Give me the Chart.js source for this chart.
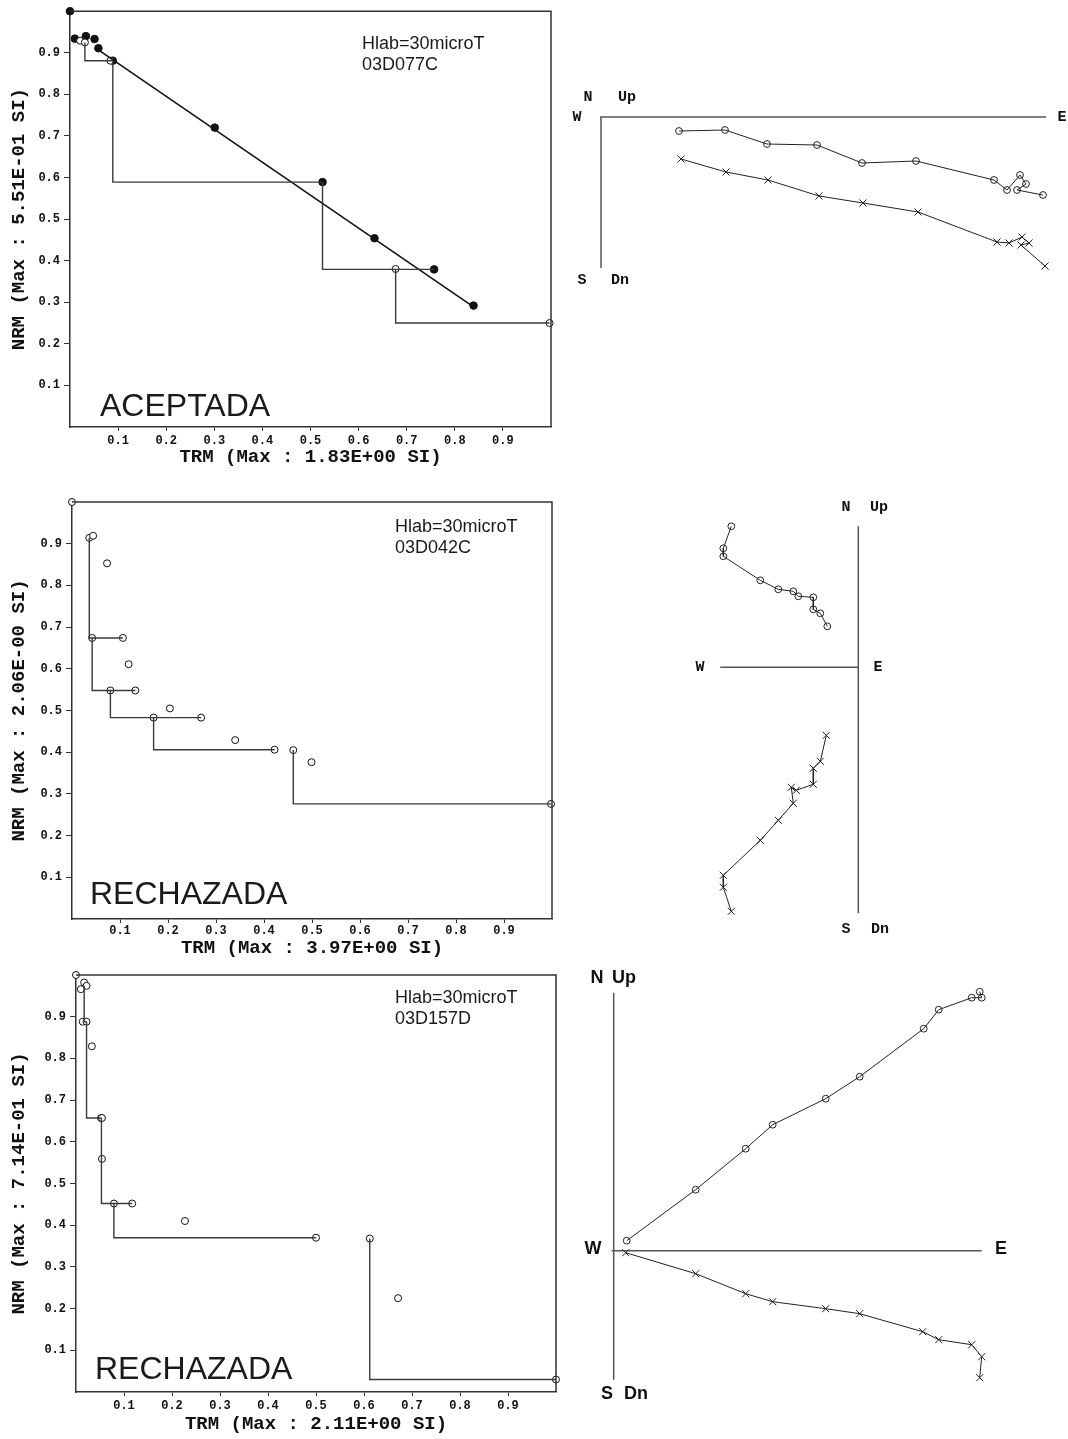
<!DOCTYPE html>
<html><head><meta charset="utf-8">
<script src="https://cdn.jsdelivr.net/npm/chart.js@4.4.0/dist/chart.umd.min.js"></script>
<style>
html,body{margin:0;padding:0;background:#fff;}
body{width:1068px;height:1439px;position:relative;overflow:hidden;}
canvas{position:absolute;display:block;}
</style></head><body>
<canvas id="a1" width="570" height="470" style="left:0;top:0"></canvas>
<canvas id="a2" width="570" height="481" style="left:0;top:480px"></canvas>
<canvas id="a3" width="570" height="477" style="left:0;top:960px"></canvas>
<canvas id="z1" width="498" height="215" style="left:570px;top:80px"></canvas>
<canvas id="z2" width="240" height="450" style="left:680px;top:490px"></canvas>
<canvas id="z3" width="488" height="440" style="left:580px;top:965px"></canvas>
<script>
// ---------- tick labels ----------
const araiTickValues = [0.1,0.2,0.3,0.4,0.5,0.6,0.7,0.8,0.9];
const araiTickLabels = ['0.1','0.2','0.3','0.4','0.5','0.6','0.7','0.8','0.9'];

// ---------- Arai plot 1 (03D077C) ----------
const arai1FilledX = [0.000,0.010,0.033,0.051,0.059,0.089,0.301,0.525,0.633,0.757,0.839];
const arai1FilledY = [1.000,0.934,0.940,0.933,0.911,0.881,0.720,0.589,0.454,0.379,0.292];
const arai1OpenX = [0.021,0.031,0.084,0.677,0.997];
const arai1OpenY = [0.929,0.925,0.881,0.380,0.250];
const arai1StepX = [[0.031,0.031,0.089],[0.089,0.089,0.525],[0.525,0.525,0.757],[0.677,0.677,0.997]];
const arai1StepY = [[0.925,0.881,0.881],[0.881,0.589,0.589],[0.589,0.379,0.379],[0.380,0.250,0.250]];
const arai1FitX = [0.059,0.839];
const arai1FitY = [0.907,0.289];

// ---------- Arai plot 2 (03D042C) ----------
const arai2OpenX = [0.000,0.036,0.044,0.073,0.042,0.106,0.118,0.080,0.132,0.204,0.170,0.269,0.340,0.422,0.461,0.499,0.998];
const arai2OpenY = [1.000,0.914,0.919,0.853,0.674,0.674,0.611,0.548,0.548,0.505,0.483,0.483,0.429,0.406,0.405,0.376,0.276];
const arai2StepX = [[0.036,0.036,0.106],[0.042,0.042,0.132],[0.080,0.080,0.269],[0.170,0.170,0.422],[0.461,0.461,0.998]];
const arai2StepY = [[0.914,0.674,0.674],[0.674,0.548,0.548],[0.548,0.483,0.483],[0.483,0.406,0.406],[0.405,0.276,0.276]];

// ---------- Arai plot 3 (03D157D) ----------
const arai3OpenX = [0.000,0.017,0.022,0.010,0.014,0.022,0.033,0.052,0.054,0.054,0.079,0.117,0.227,0.500,0.612,0.671,1.000];
const arai3OpenY = [1.000,0.982,0.974,0.966,0.888,0.888,0.829,0.657,0.657,0.559,0.452,0.452,0.410,0.370,0.368,0.225,0.030];
const arai3StepX = [[0.017,0.017,0.022],[0.022,0.022,0.053],[0.053,0.053,0.117],[0.079,0.079,0.500],[0.612,0.612,1.000]];
const arai3StepY = [[0.974,0.888,0.888],[0.888,0.657,0.657],[0.657,0.452,0.452],[0.452,0.370,0.370],[0.368,0.030,0.030]];

// ---------- Zijderveld diagrams (E, N/Up in normalized units) ----------
const zij1HorX = [0.78,1.24,1.66,2.16,2.61,3.15,3.93,4.06,4.19,4.25,4.16,4.42];
const zij1HorY = [-0.14,-0.13,-0.27,-0.28,-0.46,-0.44,-0.63,-0.73,-0.58,-0.67,-0.73,-0.78];
const zij1VerX = [0.80,1.25,1.67,2.18,2.62,3.17,3.96,4.08,4.21,4.28,4.20,4.44];
const zij1VerY = [-0.42,-0.55,-0.63,-0.79,-0.86,-0.95,-1.25,-1.26,-1.20,-1.26,-1.28,-1.49];

const zij2HorX = [-1.27,-1.35,-1.35,-0.98,-0.80,-0.65,-0.60,-0.45,-0.45,-0.38,-0.31];
const zij2HorY = [1.41,1.19,1.11,0.87,0.78,0.76,0.71,0.70,0.58,0.54,0.41];
const zij2VerX = [-0.32,-0.38,-0.45,-0.45,-0.62,-0.67,-0.65,-0.80,-0.98,-1.35,-1.35,-1.27];
const zij2VerY = [-0.68,-0.94,-1.01,-1.17,-1.23,-1.20,-1.36,-1.53,-1.73,-2.08,-2.20,-2.44];

const zij3HorX = [0.13,0.82,1.32,1.59,2.12,2.46,3.10,3.25,3.58,3.68,3.66];
const zij3HorY = [0.10,0.61,1.02,1.26,1.52,1.74,2.22,2.41,2.53,2.53,2.59];
const zij3VerX = [0.12,0.82,1.32,1.59,2.12,2.46,3.09,3.25,3.58,3.68,3.66];
const zij3VerY = [-0.02,-0.23,-0.43,-0.51,-0.58,-0.63,-0.81,-0.89,-0.94,-1.06,-1.27];

// ---------- helpers ----------
const pts = (xs, ys) => xs.map((x, i) => ({x, y: ys[i]}));
const MONO = "'Liberation Mono','Courier New',monospace";
const SANS = "'Liberation Sans',Arial,sans-serif";
Chart.defaults.font.family = MONO;
Chart.defaults.color = '#111';

const araiDecor = {
  id: 'araiDecor',
  afterDraw(chart, args, opts) {
    const {ctx, chartArea: a} = chart;
    ctx.save();
    ctx.strokeStyle = '#333';
    ctx.lineWidth = 1.5;
    ctx.beginPath();
    ctx.moveTo(a.left, a.top); ctx.lineTo(a.right, a.top); ctx.lineTo(a.right, a.bottom);
    ctx.stroke();
    ctx.fillStyle = '#1a1a1a';
    ctx.textBaseline = 'middle';
    ctx.textAlign = 'left';
    (opts.texts || []).forEach(t => {
      ctx.font = t.font;
      ctx.fillText(t.text, t.x, t.y);
    });
    ctx.restore();
  }
};

function arai(id, o) {
  const ds = [];
  o.stepX.forEach((sx, i) => ds.push({data: pts(sx, o.stepY[i]), showLine: true, borderColor: '#3a3a3a', borderWidth: 1.4, pointRadius: 0, clip: false}));
  if (o.fitX) ds.push({data: pts(o.fitX, o.fitY), showLine: true, borderColor: '#111', borderWidth: 1.6, pointRadius: 0, clip: false});
  ds.push({data: pts(o.openX, o.openY), pointRadius: 3.5, pointBackgroundColor: '#fff', pointBorderColor: '#111', pointBorderWidth: 1, clip: false});
  if (o.filledX) ds.push({data: pts(o.filledX, o.filledY), pointRadius: 3.8, pointBackgroundColor: '#111', pointBorderColor: '#111', pointBorderWidth: 1, clip: false});
  const tickFont = {family: MONO, weight: 'bold', size: 12};
  const titleFont = {family: MONO, weight: 'bold', size: 19};
  new Chart(document.getElementById(id), {
    type: 'scatter',
    data: {datasets: ds},
    options: {
      responsive: false, animation: false, devicePixelRatio: 1,
      layout: {autoPadding: false, padding: o.pad},
      plugins: {legend: {display: false}, tooltip: {enabled: false}, araiDecor: {texts: o.texts}},
      scales: {
        x: {
          type: 'linear', min: 0, max: 1,
          afterFit(s) { s.height = o.xh; },
          afterBuildTicks(s) { s.ticks = araiTickValues.map(v => ({value: v})); },
          ticks: {autoSkip: false, maxRotation: 0, padding: o.tp, font: tickFont, color: '#111', callback: (v, i) => araiTickLabels[i]},
          grid: {drawOnChartArea: false, drawTicks: true, tickLength: 4, color: '#333', lineWidth: 1},
          border: {display: true, color: '#333', width: 1.5},
          title: {display: true, text: o.xTitle, font: titleFont, color: '#111', padding: {top: 0, bottom: 1}}
        },
        y: {
          type: 'linear', min: 0, max: 1,
          afterFit(s) { s.width = o.yw; },
          afterBuildTicks(s) { s.ticks = araiTickValues.map(v => ({value: v})); },
          ticks: {autoSkip: false, padding: 4, font: tickFont, color: '#111', callback: (v, i) => araiTickLabels[i]},
          grid: {drawOnChartArea: false, drawTicks: true, tickLength: 6, color: '#333', lineWidth: 1},
          border: {display: true, color: '#333', width: 1.5},
          title: {display: true, text: o.yTitle, font: titleFont, color: '#111', padding: {top: 8, bottom: 0}}
        }
      }
    },
    plugins: [araiDecor]
  });
}

const labF = '18px ' + SANS;
const bigF = '32px ' + SANS;

arai('a1', {
  filledX: arai1FilledX, filledY: arai1FilledY, openX: arai1OpenX, openY: arai1OpenY,
  stepX: arai1StepX, stepY: arai1StepY, fitX: arai1FitX, fitY: arai1FitY,
  pad: {top: 10, right: 19, bottom: 0, left: 0}, yw: 70, xh: 43, tp: 3,
  xTitle: 'TRM (Max : 1.83E+00 SI)', yTitle: 'NRM (Max : 5.51E-01 SI)',
  texts: [{text: 'Hlab=30microT', x: 362, y: 44, font: labF}, {text: '03D077C', x: 362, y: 65, font: labF}, {text: 'ACEPTADA', x: 100, y: 407, font: bigF}]
});
arai('a2', {
  openX: arai2OpenX, openY: arai2OpenY, stepX: arai2StepX, stepY: arai2StepY,
  pad: {top: 22, right: 18, bottom: 0, left: 0}, yw: 72, xh: 42, tp: 1,
  xTitle: 'TRM (Max : 3.97E+00 SI)', yTitle: 'NRM (Max : 2.06E-00 SI)',
  texts: [{text: 'Hlab=30microT', x: 395, y: 47, font: labF}, {text: '03D042C', x: 395, y: 68, font: labF}, {text: 'RECHAZADA', x: 90, y: 415, font: bigF}]
});
arai('a3', {
  openX: arai3OpenX, openY: arai3OpenY, stepX: arai3StepX, stepY: arai3StepY,
  pad: {top: 15, right: 14, bottom: 0, left: 0}, yw: 76, xh: 45, tp: 3,
  xTitle: 'TRM (Max : 2.11E+00 SI)', yTitle: 'NRM (Max : 7.14E-01 SI)',
  texts: [{text: 'Hlab=30microT', x: 395, y: 38, font: labF}, {text: '03D157D', x: 395, y: 59, font: labF}, {text: 'RECHAZADA', x: 95, y: 410, font: bigF}]
});

// ---------- Zijderveld ----------
const zijDecor = {
  id: 'zijDecor',
  beforeDatasetsDraw(chart, args, o) {
    const {ctx, scales: {x, y}} = chart;
    ctx.save();
    ctx.strokeStyle = '#555';
    ctx.lineWidth = 1.5;
    ctx.beginPath();
    ctx.moveTo(x.getPixelForValue(o.h[0]), y.getPixelForValue(0));
    ctx.lineTo(x.getPixelForValue(o.h[1]), y.getPixelForValue(0));
    ctx.moveTo(x.getPixelForValue(0), y.getPixelForValue(o.v[0]));
    ctx.lineTo(x.getPixelForValue(0), y.getPixelForValue(o.v[1]));
    ctx.stroke();
    ctx.fillStyle = '#111';
    ctx.font = o.font;
    ctx.textAlign = 'center';
    ctx.textBaseline = 'middle';
    o.labels.forEach(l => ctx.fillText(l[0], l[1], l[2]));
    ctx.restore();
  }
};

function zij(id, o) {
  new Chart(document.getElementById(id), {
    type: 'scatter',
    data: {datasets: [
      {data: pts(o.hx, o.hy), showLine: true, borderColor: '#222', borderWidth: 1, pointStyle: 'circle', pointRadius: 3.4,
       pointBackgroundColor: 'rgba(255,255,255,0)', pointBorderColor: '#222', pointBorderWidth: 1, clip: false},
      {data: pts(o.vx, o.vy), showLine: true, borderColor: '#222', borderWidth: 1, pointStyle: 'crossRot', pointRadius: 5,
       pointBorderColor: '#222', pointBorderWidth: 1, clip: false}
    ]},
    options: {
      responsive: false, animation: false, devicePixelRatio: 1,
      layout: {autoPadding: false, padding: 0},
      plugins: {legend: {display: false}, tooltip: {enabled: false}, zijDecor: o.decor},
      scales: {x: {display: false, type: 'linear', min: o.xr[0], max: o.xr[1]}, y: {display: false, type: 'linear', min: o.yr[0], max: o.yr[1]}}
    },
    plugins: [zijDecor]
  });
}

const zMono = 'bold 15px ' + MONO;
zij('z1', {hx: zij1HorX, hy: zij1HorY, vx: zij1VerX, vy: zij1VerY, xr: [-0.31, 4.67], yr: [-1.78, 0.37],
  decor: {h: [-0.01, 4.45], v: [0, -1.51], font: zMono,
    labels: [['N', 18, 17], ['Up', 57, 17], ['W', 7, 37], ['E', 492, 37], ['S', 12, 200], ['Dn', 50, 200]]}});
zij('z2', {hx: zij2HorX, hy: zij2HorY, vx: zij2VerX, vy: zij2VerY, xr: [-1.783, 0.617], yr: [-2.727, 1.773],
  decor: {h: [-1.38, 0], v: [1.41, -2.46], font: zMono,
    labels: [['N', 166, 17], ['Up', 199, 17], ['W', 20, 177], ['E', 198, 177], ['S', 166, 439], ['Dn', 200, 439]]}});
zij('z3', {hx: zij3HorX, hy: zij3HorY, vx: zij3VerX, vy: zij3VerY, xr: [-0.337, 4.543], yr: [-1.543, 2.857],
  decor: {h: [-0.02, 3.68], v: [2.58, -1.29], font: 'bold 18px ' + SANS,
    labels: [['N', 17, 13], ['Up', 44, 13], ['W', 13, 284], ['E', 421, 284], ['S', 27, 429], ['Dn', 56, 429]]}});
</script>
</body></html>
